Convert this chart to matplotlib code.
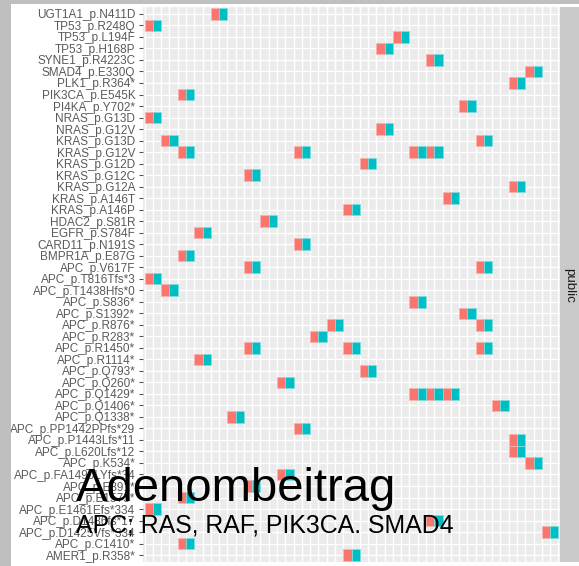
import numpy as np
import matplotlib
matplotlib.use("Agg")
import matplotlib.pyplot as plt
from matplotlib.patches import Rectangle

plt.rcParams['font.family'] = ['Liberation Sans', 'DejaVu Sans']

# mutations, top to bottom as shown on the y axis
mutations = [
    "UGT1A1_p.N411D", "TP53_p.R248Q", "TP53_p.L194F", "TP53_p.H168P",
    "SYNE1_p.R4223C", "SMAD4_p.E330Q", "PLK1_p.R364*", "PIK3CA_p.E545K",
    "PI4KA_p.Y702*", "NRAS_p.G13D", "NRAS_p.G12V", "KRAS_p.G13D",
    "KRAS_p.G12V", "KRAS_p.G12D", "KRAS_p.G12C", "KRAS_p.G12A",
    "KRAS_p.A146T", "KRAS_p.A146P", "HDAC2_p.S81R", "EGFR_p.S784F",
    "CARD11_p.N191S", "BMPR1A_p.E87G", "APC_p.V617F", "APC_p.T816Tfs*3",
    "APC_p.T1438Hfs*0", "APC_p.S836*", "APC_p.S1392*", "APC_p.R876*",
    "APC_p.R283*", "APC_p.R1450*", "APC_p.R1114*", "APC_p.Q793*",
    "APC_p.Q260*", "APC_p.Q1429*", "APC_p.Q1406*", "APC_p.Q1338*",
    "APC_p.PP1442PPfs*29", "APC_p.P1443Lfs*11", "APC_p.L620Lfs*12", "APC_p.K534*",
    "APC_p.FA1490LYfs*34", "APC_p.E891*", "APC_p.E1573*", "APC_p.E1461Efs*334",
    "APC_p.D1486fs*17", "APC_p.D1425Vfs*334", "APC_p.C1410*", "AMER1_p.R358*",
]

n_samples = 25

# one entry per hit: mutation and sample index (0 = leftmost sample)
hit_mutation = [
    "UGT1A1_p.N411D", "TP53_p.R248Q", "TP53_p.L194F", "TP53_p.H168P",
    "SYNE1_p.R4223C", "SMAD4_p.E330Q", "PLK1_p.R364*", "PIK3CA_p.E545K",
    "PI4KA_p.Y702*", "NRAS_p.G13D", "NRAS_p.G12V",
    "KRAS_p.G13D", "KRAS_p.G13D",
    "KRAS_p.G12V", "KRAS_p.G12V", "KRAS_p.G12V", "KRAS_p.G12V",
    "KRAS_p.G12D", "KRAS_p.G12C", "KRAS_p.G12A", "KRAS_p.A146T",
    "KRAS_p.A146P", "HDAC2_p.S81R", "EGFR_p.S784F", "CARD11_p.N191S",
    "BMPR1A_p.E87G",
    "APC_p.V617F", "APC_p.V617F",
    "APC_p.T816Tfs*3", "APC_p.T1438Hfs*0", "APC_p.S836*", "APC_p.S1392*",
    "APC_p.R876*", "APC_p.R876*",
    "APC_p.R283*",
    "APC_p.R1450*", "APC_p.R1450*", "APC_p.R1450*",
    "APC_p.R1114*", "APC_p.Q793*", "APC_p.Q260*",
    "APC_p.Q1429*", "APC_p.Q1429*", "APC_p.Q1429*",
    "APC_p.Q1406*", "APC_p.Q1338*", "APC_p.PP1442PPfs*29",
    "APC_p.P1443Lfs*11", "APC_p.L620Lfs*12", "APC_p.K534*",
    "APC_p.FA1490LYfs*34", "APC_p.E891*", "APC_p.E1573*",
    "APC_p.E1461Efs*334", "APC_p.D1486fs*17", "APC_p.D1425Vfs*334",
    "APC_p.C1410*", "AMER1_p.R358*",
]
hit_sample = [
    4, 0, 15, 14,
    17, 23, 22, 2,
    19, 0, 14,
    1, 20,
    2, 9, 16, 17,
    13, 6, 22, 18,
    12, 7, 3, 9,
    2,
    6, 20,
    0, 1, 16, 19,
    11, 20,
    10,
    6, 12, 20,
    3, 13, 8,
    16, 17, 18,
    21, 5, 9,
    22, 22, 23,
    8, 6, 2,
    0, 17, 24,
    2, 12,
]

group_colors = ["#F8766D", "#00BFC4"]
group_edges = ["#FBB3AD", "#7FDDE0"]

W, H = 579, 566
fig = plt.figure(figsize=(W / 100, H / 100), dpi=100)
fig.patch.set_facecolor("white")

# panel
left, right, top, bottom = 143, 560, 7, 562
ax = fig.add_axes([left / W, 1 - bottom / H, (right - left) / W, (bottom - top) / H])
ax.set_facecolor("#EBEBEB")

row_of = {m: i for i, m in enumerate(mutations)}
ys = np.array([row_of[m] for m in hit_mutation])
xs = np.array(hit_sample)

ax.barh(ys, 0.5, left=xs - 0.5, height=1.0, color=group_colors[0],
        edgecolor=group_edges[0], linewidth=0.6)
ax.barh(ys, 0.5, left=xs, height=1.0, color=group_colors[1],
        edgecolor=group_edges[1], linewidth=0.6)

ax.set_xlim(-0.6, n_samples - 0.4)
ax.set_ylim(len(mutations) - 0.4, -0.6)

ax.set_xticks(np.arange(n_samples))
ax.set_xticks(np.arange(-0.5, n_samples, 1.0), minor=True)
ax.set_yticks(np.arange(len(mutations)))
ax.set_yticklabels(mutations)
ax.set_axisbelow(True)
ax.grid(True, which="both", axis="x", color="white", linewidth=1.0)
ax.grid(True, which="major", axis="y", color="white", linewidth=1.0)

ax.tick_params(axis="x", which="both", length=0, labelbottom=False)
ax.tick_params(axis="y", length=2.9, width=0.8, color="#555555", pad=2.6,
               labelsize=8.5, labelcolor="#5a5a5a")
for s in ax.spines.values():
    s.set_visible(False)

# facet strip on the right
sax = fig.add_axes([right / W, 1 - bottom / H, 24 / W, (bottom - top) / H])
sax.set_facecolor("#CACACA")
sax.set_xticks([])
sax.set_yticks([])
for s in sax.spines.values():
    s.set_visible(False)
fig.text(569 / W, 1 - 285 / H, "public", rotation=-90, ha="center", va="center",
         fontsize=9.6, color="#1a1a1a")

# slide frame bars
fig.patches.append(Rectangle((0, 0), 11 / W, 1, transform=fig.transFigure,
                             facecolor="#BFBFBF", edgecolor="none", zorder=5))
fig.patches.append(Rectangle((0, 1 - 4 / H), 1, 4 / H, transform=fig.transFigure,
                             facecolor="#BFBFBF", edgecolor="none", zorder=5))

# overlay text
fig.text(76 / W, 1 - 501 / H, "Adenombeitrag", fontsize=34, color="black",
         ha="left", va="baseline", zorder=6)
fig.text(76 / W, 1 - 533 / H, "APC; RAS, RAF, PIK3CA. SMAD4", fontsize=17.9,
         color="black", ha="left", va="baseline", zorder=6)

fig.savefig("out.png", dpi=100)
